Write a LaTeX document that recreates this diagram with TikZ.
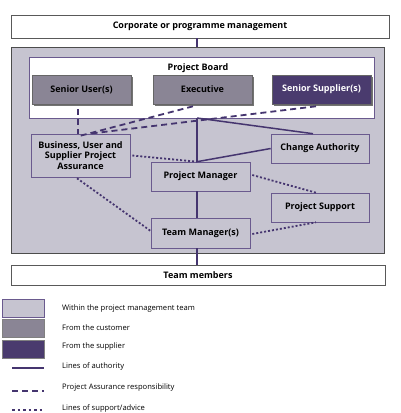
\documentclass[tikz,border=0pt]{standalone}
\usepackage{fontspec}
\setmainfont{Open Sans}
\usetikzlibrary{shadows}
\definecolor{bgrey}{HTML}{C6C4D0}
\definecolor{mgrey}{HTML}{8A8595}
\definecolor{dpurp}{HTML}{4A3B6E}
\definecolor{lpurp}{HTML}{45356F}
\definecolor{bord}{HTML}{6A5A8E}
\tikzset{
  box/.style={draw=bord, line width=0.6pt, inner sep=1pt, align=center, font=\bfseries\fontsize{9}{10.5}\selectfont},
  lbox/.style={box, fill=bgrey, minimum width=99pt, minimum height=29pt},
  shad/.style={general shadow={shadow xshift=1.6pt, shadow yshift=-1.6pt, fill=black!55}},
  mbox/.style={box, fill=mgrey, draw=black!60, minimum width=99pt, minimum height=29pt, shad},
  dbox/.style={box, fill=dpurp, draw=black!60, text=white, minimum width=99pt, minimum height=29pt, shad},
  auth/.style={draw=lpurp, line width=1.5pt},
  assur/.style={draw=lpurp, line width=1.8pt, dash pattern=on 6pt off 4pt},
  supp/.style={draw=lpurp, line width=1.8pt, dash pattern=on 2pt off 2pt},
  lsupp/.style={draw=lpurp, line width=1.8pt, dash pattern=on 2.5pt off 3pt},
  leg/.style={anchor=west, font=\fontsize{7.6}{8}\selectfont, inner sep=0pt},
  wide/.style={draw=black!65, line width=0.8pt, fill=white, font=\bfseries\fontsize{9}{10}\selectfont},
}
\begin{document}
\begin{tikzpicture}[x=1pt,y=-1pt]
\useasboundingbox (0,0) rectangle (400,413);
% main regions
\node[wide, minimum width=378pt, minimum height=23pt] (corp) at (200,26.5) {Corporate or programme management};
\node[draw=black!70, line width=0.8pt, fill=bgrey, minimum width=373pt, minimum height=206pt, inner sep=0pt] (pmt) at (197.5,150) {};
\node[draw=bord, line width=0.6pt, fill=white, minimum width=345pt, minimum height=61pt, inner sep=0pt] (board) at (201.5,87.5) {};
\node[font=\bfseries\fontsize{9}{10}\selectfont] (boardlbl) at (198,68) {Project Board};
\node[mbox] (su) at (81.5,89.5) {Senior User(s)};
\node[mbox] (ex) at (202.5,89.5) {Executive};
\node[dbox] (ss) at (321.5,89.5) {Senior Supplier(s)};
\node[lbox, minimum height=43pt] (pa) at (80.5,155.5) {Business, User and\\Supplier Project\\Assurance};
\node[lbox, minimum width=98pt] (ca) at (320,148.5) {Change Authority};
\node[lbox] (pm) at (200.5,176.5) {Project Manager};
\node[lbox, minimum width=98pt] (ps) at (320,207.5) {Project Support};
\node[lbox, minimum height=30pt] (tm) at (200.5,233) {Team Manager(s)};
\node[wide, minimum width=374pt, minimum height=20pt] (team) at (198,275) {Team members};
\coordinate (j) at (197,118);
% lines of authority
\draw[auth] (corp.south -| j) -- (pmt.north -| j);
\draw[auth] (j) -- (pm.north -| j);
\draw[auth] (j) -- ([xshift=-7pt]ca.north);
\draw[auth] (pm.north -| j) -- (ca.west);
\draw[auth] (pm.south -| j) -- (tm.north -| j);
\draw[auth] (tm.south -| j) -- (team.north -| j);
% project assurance
\draw[assur] ([xshift=-3.5pt,yshift=-5pt]su.south) -- ([xshift=-2.5pt]pa.north);
\draw[assur] ([xshift=-9.5pt,yshift=-2pt]ex.south) -- ([xshift=0pt,yshift=-2pt]pa.north);
\draw[assur] ([xshift=-5.5pt,yshift=-2pt]ss.south) -- ([xshift=9pt]pa.north);
% support / advice
\draw[supp] ([xshift=2pt]pa.east) -- (pm.north -| j);
\draw[supp] ([xshift=-3.5pt,yshift=-1pt]pa.south) -- ([yshift=2pt]tm.west);
\draw[supp] ([xshift=2pt,yshift=1.5pt]pm.east) -- ([xshift=-4pt]ps.north);
\draw[supp] ([xshift=2pt,yshift=-1pt]tm.east) -- ([xshift=-4pt]ps.south);
% legend
\node[draw=bord, line width=0.6pt, fill=bgrey, minimum width=42pt, minimum height=18pt, inner sep=0pt] (k1) at (23,308) {};
\node[draw=black!50, line width=0.6pt, fill=mgrey, minimum width=42pt, minimum height=18pt, inner sep=0pt] (k2) at (23,328) {};
\node[draw=black!50, line width=0.6pt, fill=dpurp, minimum width=42pt, minimum height=18pt, inner sep=0pt] (k3) at (23,349) {};
\coordinate (l1a) at (12,368); \coordinate (l1b) at (44,368);
\coordinate (l2a) at (12,391); \coordinate (l2b) at (44,391);
\coordinate (l3a) at (12,410); \coordinate (l3b) at (44,410);
\draw[auth] (l1a) -- (l1b);
\draw[assur] (l2a) -- (l2b);
\draw[lsupp] (l3a) -- (l3b);
\node[leg] (t1) at (62,309) {Within the project management team};
\node[leg] (t2) at (62,328) {From the customer};
\node[leg] (t3) at (62,347) {From the supplier};
\node[leg] (t4) at (62,367) {Lines of authority};
\node[leg] (t5) at (62,388) {Project Assurance responsibility};
\node[leg] (t6) at (62,409) {Lines of support/advice};
\end{tikzpicture}
\end{document}
